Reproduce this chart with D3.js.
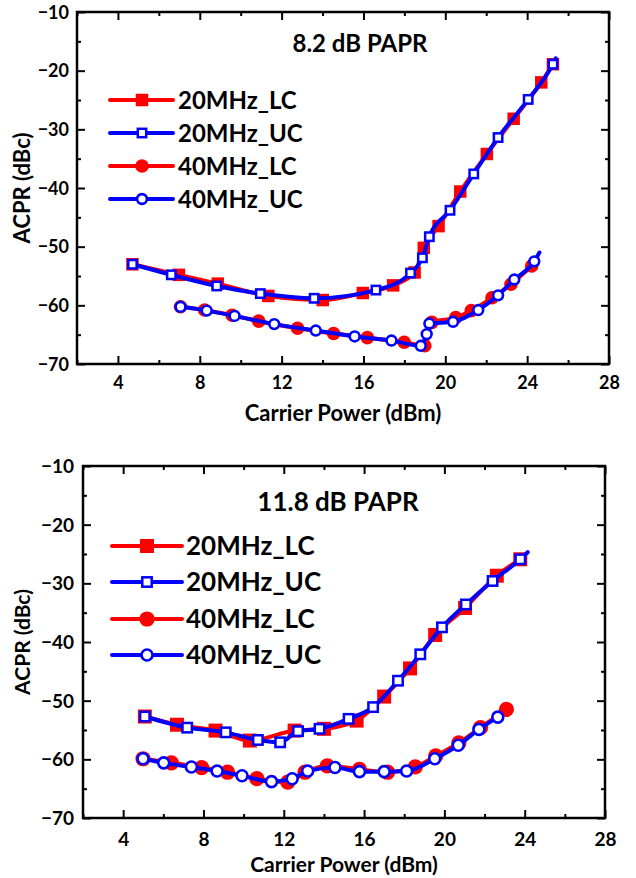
<!DOCTYPE html>
<html>
<head>
<meta charset="utf-8">
<script src="https://cdn.jsdelivr.net/npm/d3@7"></script>
<style>
  html, body { margin: 0; padding: 0; background: #fff; }
  svg { display: block; }
  text { font-family: Lato, "Open Sans", sans-serif; fill: #000; font-weight: 700; }
</style>
</head>
<body>
<svg id="chart" width="636" height="878"></svg>
<script>
// ---------------- DATA ----------------
const xTicks = [4, 8, 12, 16, 20, 24, 28];
const yTicks = [-10, -20, -30, -40, -50, -60, -70];
const seriesNames = ["20MHz_LC", "20MHz_UC", "40MHz_LC", "40MHz_UC"];
const panelTitles = ["8.2 dB PAPR", "11.8 dB PAPR"];
const xLabel = "Carrier Power (dBm)";
const yLabel = "ACPR (dBc)";

// Top panel: 8.2 dB PAPR
const top20LC_x = [4.71, 6.98, 8.88, 11.35, 14.01, 15.97, 17.45, 18.50, 18.95, 19.67, 20.73, 22.03, 23.34, 24.69, 25.26];
const top20LC_y = [-53.0, -54.8, -56.3, -58.4, -59.1, -57.9, -56.6, -54.4, -50.2, -46.5, -40.6, -34.2, -28.2, -22.0, -18.9];
const top20UC_x = [4.71, 6.61, 8.83, 10.96, 13.59, 16.61, 18.30, 18.88, 19.22, 20.23, 21.39, 22.58, 24.05, 25.26, 25.4];
const top20UC_y = [-53.0, -54.8, -56.7, -58.0, -58.8, -57.4, -54.5, -51.9, -48.3, -43.8, -37.6, -31.4, -24.9, -18.9, -17.9];
const top20UC_m = [1,1,1,1,1,1,1,1,1,1,1,1,1,1,0];
const top40LC_x = [7.06, 8.24, 9.58, 10.88, 12.78, 14.54, 16.19, 17.99, 19.0, 19.34, 20.51, 21.27, 22.28, 23.21, 24.22];
const top40LC_y = [-60.25, -60.8, -61.7, -62.7, -63.9, -64.8, -65.5, -66.3, -66.9, -62.9, -62.1, -60.9, -58.7, -56.4, -53.3];
const top40UC_x = [7.06, 8.34, 9.70, 11.64, 13.67, 15.57, 17.37, 18.80, 19.09, 19.22, 20.38, 21.61, 22.58, 23.37, 24.35, 24.6];
const top40UC_y = [-60.25, -60.9, -61.8, -63.2, -64.3, -65.3, -66.0, -66.9, -64.9, -63.1, -62.8, -60.8, -58.3, -55.6, -52.5, -51.0];
const top40UC_m = [1,1,1,1,1,1,1,1,1,1,1,1,1,1,1,0];

// Bottom panel: 11.8 dB PAPR
const bot20LC_x = [5.08, 6.68, 8.60, 10.31, 12.54, 14.0, 15.63, 17.0, 18.29, 19.54, 21.03, 22.61, 23.78];
const bot20LC_y = [-52.7, -54.1, -55.1, -56.8, -55.1, -54.8, -53.4, -49.3, -44.5, -38.8, -34.2, -28.7, -25.9];
const bot20UC_x = [5.08, 7.19, 9.11, 10.71, 11.82, 12.71, 13.78, 15.23, 16.45, 17.69, 18.80, 19.88, 21.07, 22.40, 23.78, 24.15];
const bot20UC_y = [-52.7, -54.6, -55.4, -56.7, -57.1, -55.2, -54.8, -53.1, -51.1, -46.6, -42.1, -37.5, -33.6, -29.6, -25.9, -24.7];
const bot20UC_m = [1,1,1,1,1,1,1,1,1,1,1,1,1,1,1,0];
const bot40LC_x = [4.99, 6.40, 7.91, 9.20, 10.66, 12.20, 13.06, 14.17, 15.77, 17.17, 18.55, 19.57, 20.72, 21.80, 23.09];
const bot40LC_y = [-59.9, -60.6, -61.4, -62.2, -63.3, -63.9, -62.2, -61.1, -61.7, -62.2, -61.3, -59.4, -57.2, -54.6, -51.5];
const bot40UC_x = [4.99, 6.02, 7.40, 8.68, 9.92, 11.39, 12.42, 13.19, 14.55, 15.77, 17.0, 18.12, 19.52, 20.69, 21.72, 22.66];
const bot40UC_y = [-59.9, -60.6, -61.3, -62.0, -62.8, -63.8, -63.3, -62.0, -61.4, -62.1, -62.1, -62.0, -59.9, -57.6, -54.9, -52.8];

// ---------------- DRAW ----------------
const svg = d3.select("#chart");
const RED = "#ff0000", BLUE = "#0000ff";

const zip = (xs, ys, ms) => xs.map((x, i) => ({x, y: ys[i], m: ms ? ms[i] : 1}));

const panels = [
  {
    frame: {l: 77, r: 609, t: 12, b: 364},
    title: panelTitles[0], titlePos: [360, 52], titleSize: 24,
    legend: {x0: 110, x1: 173, mx: 142, tx: 178, ys: [100, 133, 166, 199], size: 24},
    mk: 1.0,
    tickSize: 18, tickLabelDy: 25, yTickPad: 8, xTitleY: 421, yTitleX: 30, axisTitleSize: 22
  },
  {
    frame: {l: 83, r: 605, t: 466, b: 818},
    title: panelTitles[1], titlePos: [338, 511], titleSize: 26,
    legend: {x0: 112, x1: 182, mx: 147, tx: 186, ys: [546, 582, 619, 655], size: 26},
    mk: 1.12,
    tickSize: 19, tickLabelDy: 28, yTickPad: 9, xTitleY: 872, yTitleX: 30, axisTitleSize: 21
  }
];
panels[0].series = [
  {name: seriesNames[0], data: zip(top20LC_x, top20LC_y), color: RED, shape: "square", filled: true},
  {name: seriesNames[1], data: zip(top20UC_x, top20UC_y, top20UC_m), color: BLUE, shape: "square", filled: false},
  {name: seriesNames[2], data: zip(top40LC_x, top40LC_y), color: RED, shape: "circle", filled: true},
  {name: seriesNames[3], data: zip(top40UC_x, top40UC_y, top40UC_m), color: BLUE, shape: "circle", filled: false}
];
panels[1].series = [
  {name: seriesNames[0], data: zip(bot20LC_x, bot20LC_y), color: RED, shape: "square", filled: true},
  {name: seriesNames[1], data: zip(bot20UC_x, bot20UC_y, bot20UC_m), color: BLUE, shape: "square", filled: false},
  {name: seriesNames[2], data: zip(bot40LC_x, bot40LC_y), color: RED, shape: "circle", filled: true},
  {name: seriesNames[3], data: zip(bot40UC_x, bot40UC_y), color: BLUE, shape: "circle", filled: false}
];

function drawMarker(g, shape, filled, color, cx, cy, k) {
  if (shape === "square") {
    const s = (filled ? 12.5 : 8.4) * k;
    g.append("rect")
      .attr("x", cx - s / 2).attr("y", cy - s / 2)
      .attr("width", s).attr("height", s)
      .attr("fill", filled ? color : "#fff")
      .attr("stroke", color).attr("stroke-width", filled ? 0 : 2.5);
  } else {
    const r = (filled ? 6.8 : 4.9) * k;
    g.append("circle")
      .attr("cx", cx).attr("cy", cy).attr("r", r)
      .attr("fill", filled ? color : "#fff")
      .attr("stroke", color).attr("stroke-width", filled ? 0 : 2.6);
  }
}

panels.forEach(p => {
  const f = p.frame;
  const x = d3.scaleLinear().domain([2, 28]).range([f.l, f.r]);
  const y = d3.scaleLinear().domain([-70, -10]).range([f.b, f.t]);
  const g = svg.append("g");

  // data lines + markers
  const line = d3.line().x(d => x(d.x)).y(d => y(d.y)).curve(d3.curveMonotoneX);
  p.series.forEach(s => {
    const sg = g.append("g");
    sg.append("path").datum(s.data)
      .attr("d", line).attr("fill", "none")
      .attr("stroke", s.color).attr("stroke-width", 4)
      .attr("stroke-linejoin", "round").attr("stroke-linecap", "round");
    s.data.filter(d => d.m).forEach(d => drawMarker(sg, s.shape, s.filled, s.color, x(d.x), y(d.y), p.mk));
  });

  // axes (ticks inward, mirrored on all sides)
  const xMinor = d3.range(2, 28.01, 2).filter(v => v % 4 !== 0);
  const yMinor = d3.range(-65, -10, 10);
  const axB = d3.axisBottom(x).tickValues(xTicks).tickSizeInner(-8).tickSizeOuter(0).tickPadding(0);
  const axBm = d3.axisBottom(x).tickValues(xMinor).tickSizeInner(-4).tickSizeOuter(0).tickFormat("");
  const axT = d3.axisTop(x).tickValues(xTicks).tickSizeInner(-8).tickSizeOuter(0).tickFormat("");
  const axTm = d3.axisTop(x).tickValues(xMinor).tickSizeInner(-4).tickSizeOuter(0).tickFormat("");
  const axL = d3.axisLeft(y).tickValues(yTicks).tickSizeInner(-8).tickSizeOuter(0).tickPadding(0);
  const axLm = d3.axisLeft(y).tickValues(yMinor).tickSizeInner(-4).tickSizeOuter(0).tickFormat("");
  const axR = d3.axisRight(y).tickValues(yTicks).tickSizeInner(-8).tickSizeOuter(0).tickFormat("");
  const axRm = d3.axisRight(y).tickValues(yMinor).tickSizeInner(-4).tickSizeOuter(0).tickFormat("");

  const style = sel => {
    sel.selectAll(".domain").remove();
    sel.selectAll(".tick line").attr("stroke", "#000").attr("stroke-width", 2);
  };
  const gb = g.append("g").attr("transform", `translate(0,${f.b})`).call(axB).call(style);
  g.append("g").attr("transform", `translate(0,${f.b})`).call(axBm).call(style);
  g.append("g").attr("transform", `translate(0,${f.t})`).call(axT).call(style);
  g.append("g").attr("transform", `translate(0,${f.t})`).call(axTm).call(style);
  const gl = g.append("g").attr("transform", `translate(${f.l},0)`).call(axL).call(style);
  g.append("g").attr("transform", `translate(${f.l},0)`).call(axLm).call(style);
  g.append("g").attr("transform", `translate(${f.r},0)`).call(axR).call(style);
  g.append("g").attr("transform", `translate(${f.r},0)`).call(axRm).call(style);

  gb.selectAll(".tick text")
    .attr("y", p.tickLabelDy).attr("dy", 0)
    .style("font-size", p.tickSize + "px").attr("fill", "#000");
  gl.selectAll(".tick text")
    .attr("x", -p.yTickPad).attr("dy", "0.35em")
    .style("font-size", p.tickSize + "px").attr("fill", "#000");

  // frame
  g.append("rect").attr("x", f.l).attr("y", f.t)
    .attr("width", f.r - f.l).attr("height", f.b - f.t)
    .attr("fill", "none").attr("stroke", "#000").attr("stroke-width", 2.5);

  // axis titles
  g.append("text").attr("x", (f.l + f.r) / 2).attr("y", p.xTitleY)
    .attr("text-anchor", "middle").style("font-size", p.axisTitleSize + "px")
    .text(xLabel);
  g.append("text")
    .attr("transform", `translate(${p.yTitleX},${(f.t + f.b) / 2}) rotate(-90)`)
    .attr("text-anchor", "middle").style("font-size", p.axisTitleSize + "px")
    .text(yLabel);

  // panel title
  g.append("text").attr("x", p.titlePos[0]).attr("y", p.titlePos[1])
    .attr("text-anchor", "middle").style("font-size", p.titleSize + "px")
    .text(p.title);

  // legend
  const L = p.legend;
  p.series.forEach((s, i) => {
    const ly = L.ys[i];
    const lg = g.append("g");
    lg.append("line").attr("x1", L.x0).attr("x2", L.x1).attr("y1", ly).attr("y2", ly)
      .attr("stroke", s.color).attr("stroke-width", 4).attr("stroke-linecap", "round");
    drawMarker(lg, s.shape, s.filled, s.color, L.mx, ly, p.mk);
    lg.append("text").attr("x", L.tx).attr("y", ly).attr("dy", "0.36em")
      .style("font-size", L.size + "px").text(s.name);
  });
});
</script>
</body>
</html>
